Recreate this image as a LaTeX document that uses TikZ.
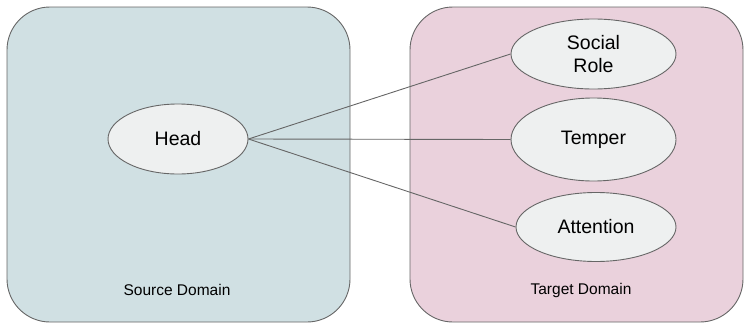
\documentclass[tikz,border=0pt]{standalone}
\usepackage{fontspec}
\setmainfont{Liberation Sans}
\usetikzlibrary{shapes.geometric}
\definecolor{srcfill}{HTML}{D0E0E3}
\definecolor{tgtfill}{HTML}{EAD1DC}
\definecolor{ovalfill}{HTML}{EEF0F0}
\definecolor{edgegray}{HTML}{666666}
\tikzset{
  domainbox/.style={draw=edgegray, line width=0.9pt, rounded corners=43pt},
  concept/.style={ellipse, draw=edgegray, line width=0.9pt, fill=ovalfill,
    inner sep=0pt, font=\fontsize{19.5}{22.5}\selectfont, align=center},
  domainlabel/.style={font=\fontsize{15.5}{18}\selectfont, inner sep=0pt},
  link/.style={draw=edgegray, line width=0.9pt}
}
\begin{document}
\begin{tikzpicture}[x=1pt, y=-1pt]
  \useasboundingbox (0,0) rectangle (746,324);
  % source and target domains
  \draw[domainbox, fill=srcfill] (7,7) rectangle (350,322);
  \draw[domainbox, fill=tgtfill] (410,7) rectangle (743,322);
  \node[domainlabel] (srclabel) at (177,290) {Source Domain};
  \node[domainlabel] (tgtlabel) at (581,290) {Target Domain};
  % concepts
  \node[concept, minimum width=140pt, minimum height=70pt] (head) at (178,139) {Head};
  \node[concept, minimum width=165pt, minimum height=70pt] (social) at (593.5,54) {Social\\Role};
  \node[concept, minimum width=165pt, minimum height=83pt] (temper) at (593.5,139.5) {Temper};
  \node[concept, minimum width=160pt, minimum height=69pt] (attention) at (596,227) {Attention};
  % mappings
  \draw[link] (head.east) -- (social.west);
  \draw[link] (head.east) -- (temper.west);
  \draw[link] (head.east) -- (attention.west);
\end{tikzpicture}
\end{document}
